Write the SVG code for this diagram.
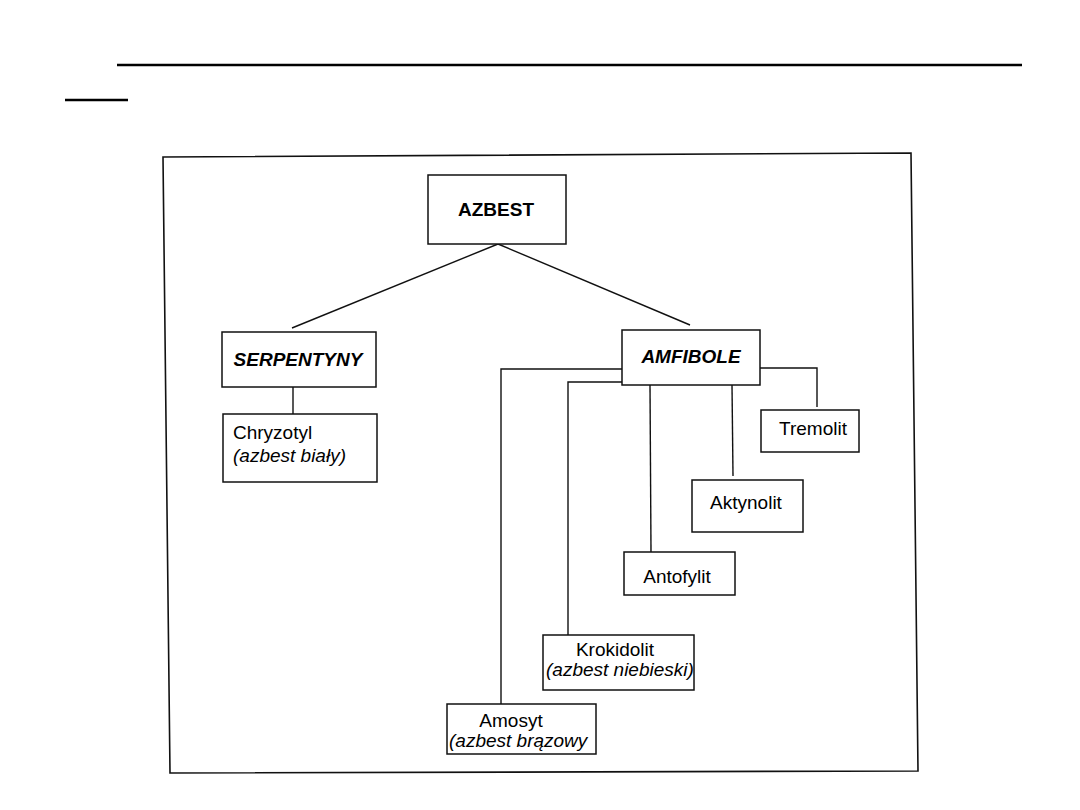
<svg xmlns="http://www.w3.org/2000/svg" width="1080" height="810" viewBox="0 0 1080 810">
<style>
.box{fill:#fff;stroke:#111;stroke-width:1.5}
.conn{fill:none;stroke:#111;stroke-width:1.4}
.t{font-family:"Liberation Sans",Arial,sans-serif;font-size:19px;fill:#000}
.b{font-weight:bold;font-size:19px}
.i{font-style:italic}
</style>
<rect width="1080" height="810" fill="#fff"/>
<line x1="117" y1="65" x2="1022" y2="65" stroke="#000" stroke-width="2.4"/>
<line x1="65" y1="100" x2="128" y2="100" stroke="#000" stroke-width="2.4"/>
<polygon points="163,157 911,153 918,771 170,773" fill="none" stroke="#111" stroke-width="1.6"/>
<g id="connectors">
<line class="conn" x1="498" y1="244" x2="292" y2="328"/>
<line class="conn" x1="498" y1="244" x2="690" y2="325"/>
<line class="conn" x1="293" y1="387" x2="293" y2="414"/>
<polyline class="conn" points="622,369 501,369 501,704"/>
<polyline class="conn" points="622,382 568,382 568,635"/>
<line class="conn" x1="650" y1="385" x2="651" y2="552"/>
<line class="conn" x1="732" y1="385" x2="733" y2="476"/>
<polyline class="conn" points="760,368 817,368 817,407"/>
</g>
<g id="azbest">
<rect class="box" x="428" y="175" width="138" height="69"/>
<text class="t b" x="496" y="216" text-anchor="middle">AZBEST</text>
</g>
<g id="serpentyny">
<rect class="box" x="222" y="332" width="154" height="55"/>
<text class="t b i" x="298" y="366" text-anchor="middle">SERPENTYNY</text>
</g>
<g id="amfibole">
<rect class="box" x="622" y="330" width="138" height="55"/>
<text class="t b i" x="691" y="363" text-anchor="middle">AMFIBOLE</text>
</g>
<g id="chryzotyl">
<rect class="box" x="223" y="414" width="154" height="68"/>
<text class="t" x="233" y="439">Chryzotyl</text>
<text class="t i" x="233" y="462">(azbest biały)</text>
</g>
<g id="tremolit">
<rect class="box" x="761" y="410" width="98" height="42"/>
<text class="t" x="813" y="435" text-anchor="middle">Tremolit</text>
</g>
<g id="aktynolit">
<rect class="box" x="692" y="480" width="111" height="52"/>
<text class="t" x="746" y="509" text-anchor="middle">Aktynolit</text>
</g>
<g id="antofylit">
<rect class="box" x="624" y="552" width="111" height="43"/>
<text class="t" x="677" y="583" text-anchor="middle">Antofylit</text>
</g>
<g id="krokidolit">
<rect class="box" x="543" y="635" width="151" height="55"/>
<text class="t" x="615" y="656" text-anchor="middle">Krokidolit</text>
<text class="t i" x="546" y="676">(azbest niebieski)</text>
</g>
<g id="amosyt">
<rect class="box" x="447" y="704" width="149" height="50"/>
<text class="t" x="511" y="727" text-anchor="middle">Amosyt</text>
<text class="t i" x="449" y="747">(azbest brązowy</text>
</g>
</svg>
